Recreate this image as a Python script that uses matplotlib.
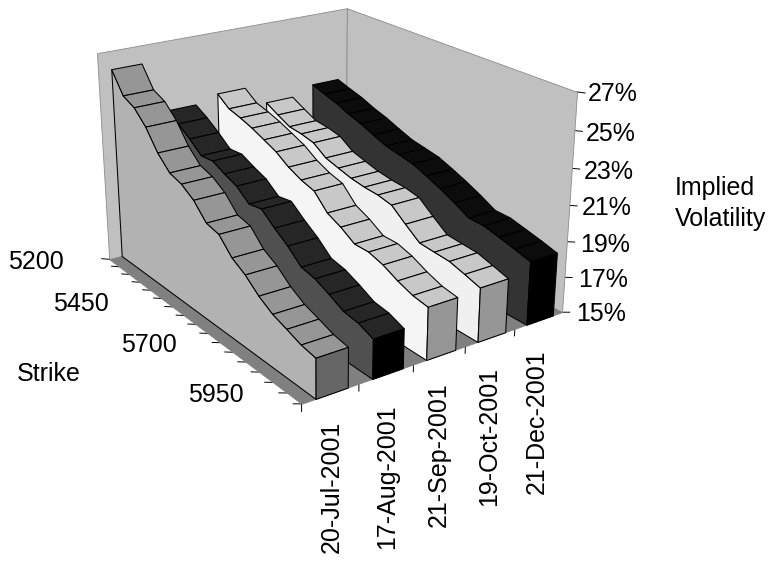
import numpy as np
import matplotlib
matplotlib.use('Agg')
import matplotlib.pyplot as plt
from mpl_toolkits.mplot3d.art3d import Poly3DCollection

plt.rcParams['font.family'] = ['Liberation Sans', 'DejaVu Sans']

strikes = [5200, 5250, 5300, 5350, 5400, 5450, 5500, 5550, 5600, 5650, 5700, 5750, 5800, 5850, 5900, 5950, 6000]
expiries = ['20-Jul-2001', '17-Aug-2001', '21-Sep-2001', '19-Oct-2001', '21-Dec-2001']
jul = [25.98, 24.83, 24.5, 23.77, 22.7, 21.98, 21.75, 21.27, 20.45, 20.27, 19.45, 19.0, 18.35, 17.88, 17.6, 17.3, 17.15]
aug = [23.02, 22.6, 22.08, 21.48, 21.55, 21.2, 20.9, 20.3, 20.43, 19.8, 19.25, 18.55, 18.38, 18.02, 17.6, 17.48, 17.15]
sep = [23.4, 22.85, 22.65, 22.4, 22.08, 21.75, 21.25, 20.9, 20.68, 19.85, 19.48, 18.98, 18.98, 18.73, 18.33, 18.02, 17.88]
oct_ = [22.25, 21.85, 21.48, 21.4, 21.23, 20.7, 20.48, 20.27, 20.15, 20.1, 19.93, 19.27, 18.65, 18.58, 18.52, 18.27, 18.0]
dec = [22.75, 22.5, 22.27, 21.95, 21.7, 21.38, 21.08, 20.93, 20.77, 20.45, 20.1, 19.7, 19.25, 19.23, 19.02, 18.8, 18.55]
vols = [jul, aug, sep, oct_, dec]
# top, side, end colours of each ribbon
colours = [('#969696', '#b2b2b2', '#666666'), ('#262626', '#505050', '#000000'),
           ('#c8c8c8', '#f5f5f5', '#969696'), ('#c8c8c8', '#f0f0f0', '#969696'),
           ('#0c0c0c', '#333333', '#000000')]

fig = plt.figure(figsize=(7.69, 5.61), dpi=100)
ax = fig.add_subplot(projection='3d', computed_zorder=False)
ax.set_xlim(0, 16)
ax.set_ylim(0, 5)
ax.set_zlim(15, 27)
ax.view_init(elev=21.6309, azim=-34.9355, roll=-0.0771)
ax.set_proj_type('persp', focal_length=0.5174)
ax.set_box_aspect((1.1838, 1, 0.7366))
ax.set_position([0.07963, 0.20297, 0.67308, 0.92263])
ax.set_axis_off()

order = [0]
def add_polys(polys, fc, ec='black', lw=0.75):
    order[0] += 1
    pc = Poly3DCollection(polys, facecolors=fc, edgecolors=ec, linewidths=lw, zorder=order[0])
    pc.set_clip_on(False)
    ax.add_collection3d(pc, autolim=False)

# walls and floor
add_polys([[(0, 0, 15), (0, 5, 15), (0, 5, 27), (0, 0, 27)]], '#c0c0c0', '#8c8c8c', 0.6)
add_polys([[(0, 5, 15), (16, 5, 15), (16, 5, 27), (0, 5, 27)]], '#c0c0c0', '#8c8c8c', 0.6)
add_polys([[(0, 0, 15), (16, 0, 15), (16, 5, 15), (0, 5, 15)]], '#808080', '#808080', 0.5)

# ticks
for i in range(len(strikes)):
    ax.plot([i, i], [0, -0.14], [15, 15.155], color='black', lw=0.7, zorder=1, clip_on=False)
for j in range(len(expiries)):
    ax.plot([16, 16], [j, j], [15, 14.6], color='black', lw=0.7, zorder=1, clip_on=False)
for z in range(15, 28, 2):
    ax.plot([16, 16], [5, 5.17], [z, z - 0.16], color='black', lw=0.7, zorder=1, clip_on=False)

# ribbons, back to front
g0, g1 = 0.24, 0.80
xs = np.arange(len(strikes))
for k in range(4, -1, -1):
    v = vols[k]
    top_c, side_c, end_c = colours[k]
    near = k + g0
    far = k + g1
    side = [(x, near, z) for x, z in zip(xs, v)] + [(16, near, 15), (0, near, 15)]
    add_polys([side], side_c)
    for i in range(16):
        add_polys([[(i, near, v[i]), (i, far, v[i]), (i + 1, far, v[i + 1]), (i + 1, near, v[i + 1])]], top_c)
    add_polys([[(16, near, 15), (16, far, 15), (16, far, v[16]), (16, near, v[16])]], end_c)

W, H = 769.0, 561.0
fs = 18
def label(x, y, s, **kw):
    fig.text(x / W, 1 - y / H, s, fontsize=fs, **kw)

for s_, x, y in zip(strikes[::5], [8, 53, 121, 188], [262, 304, 345, 395]):
    label(x, y, str(s_), ha='left', va='center')
label(17, 374, 'Strike', ha='left', va='center')
label(675, 188, 'Implied', ha='left', va='center')
label(675, 219, 'Volatility', ha='left', va='center')
for t, x, y in zip(range(15, 28, 2), [576, 578, 580, 582, 584, 586, 588], [314, 280, 245, 208, 172, 134, 94]):
    label(x, y, f'{t}%', ha='left', va='center')
for e, x, y in zip(expiries, [332, 387, 439, 489, 537], [421, 404, 382, 367, 349]):
    label(x, y, e, ha='center', va='top', rotation=90)

fig.savefig('out.png', dpi=100)
